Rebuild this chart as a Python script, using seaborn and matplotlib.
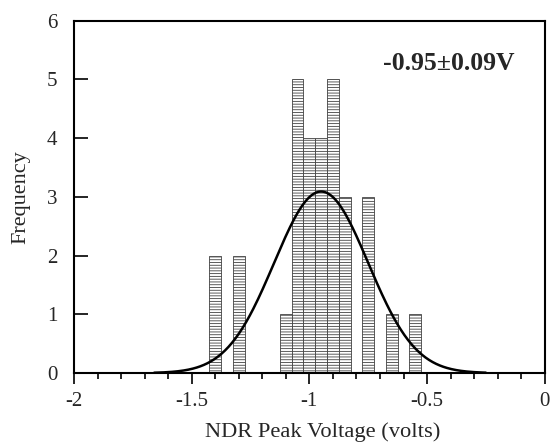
import numpy as np
import pandas as pd
import matplotlib
matplotlib.use("Agg")
import matplotlib.pyplot as plt
import seaborn as sns

# Data
bin_centers = [-1.40, -1.30, -1.10, -1.05, -1.00, -0.95, -0.90, -0.85, -0.75, -0.65, -0.55]
counts = [2, 2, 1, 5, 4, 4, 5, 3, 3, 1, 1]
fit_mean = -0.95
fit_sd = 0.20
bin_width = 0.05
x_ticks = [-2, -1.5, -1, -0.5, 0]
x_tick_labels = ["-2", "-1.5", "-1", "-0.5", "0"]
y_ticks = [0, 1, 2, 3, 4, 5, 6]
annotation = "-0.95\u00b10.09V"

sns.set_theme(style="ticks")
plt.rcParams["font.family"] = ["Liberation Serif", "DejaVu Serif"]
plt.rcParams["hatch.color"] = "#a0a0a0"
plt.rcParams["hatch.linewidth"] = 0.6

fig = plt.figure(figsize=(5.5, 4.42), dpi=100)
ax = fig.add_axes([0.1345, 0.156, 0.856, 0.797])

df = pd.DataFrame({"v": bin_centers, "n": counts})
lo = min(bin_centers) - bin_width / 2
hi = max(bin_centers) + bin_width / 2
sns.histplot(data=df, x="v", weights="n", binwidth=bin_width, binrange=(lo, hi), ax=ax,
             color="white", edgecolor="#404040", linewidth=0.6, alpha=1)
for p in ax.patches:
    p.set_hatch("------")
    try:
        p.set_hatchcolor("#a0a0a0")
    except Exception:
        pass

total = sum(counts)
xs = np.linspace(-2, 0, 400)
ys = total * bin_width / (fit_sd * np.sqrt(2 * np.pi)) * np.exp(-0.5 * ((xs - fit_mean) / fit_sd) ** 2)
mask = (xs > -1.66) & (xs < -0.25)
sns.lineplot(x=xs[mask], y=ys[mask], ax=ax, color="black", linewidth=1.8)

ax.set_xlim(-2, 0)
ax.set_ylim(0, 6)
ax.set_xticks(x_ticks)
ax.set_xticklabels(x_tick_labels)
ax.set_xticks(np.arange(-2, 0.001, 0.1), minor=True)
ax.set_yticks(y_ticks)
ax.tick_params(axis="x", which="major", direction="out", length=8, width=1.2, labelsize=15, pad=6, color="black")
ax.tick_params(axis="x", which="minor", direction="out", length=4, width=1.2, color="black")
ax.tick_params(axis="y", which="major", direction="in", length=10, width=1.2, labelsize=15, pad=12, color="black")
ax.tick_params(axis="y", which="minor", length=0)
for s in ax.spines.values():
    s.set_visible(True)
    s.set_linewidth(1.5)
    s.set_color("black")

ax.set_xlabel("NDR Peak Voltage (volts)", fontsize=16.2, labelpad=8, x=0.528)
ax.set_ylabel("Frequency", fontsize=16, labelpad=12)
ax.text(0.936, 0.878, annotation, transform=ax.transAxes, ha="right", va="center",
        fontsize=18.5, fontweight="bold")

fig.savefig("out.png", dpi=100)
